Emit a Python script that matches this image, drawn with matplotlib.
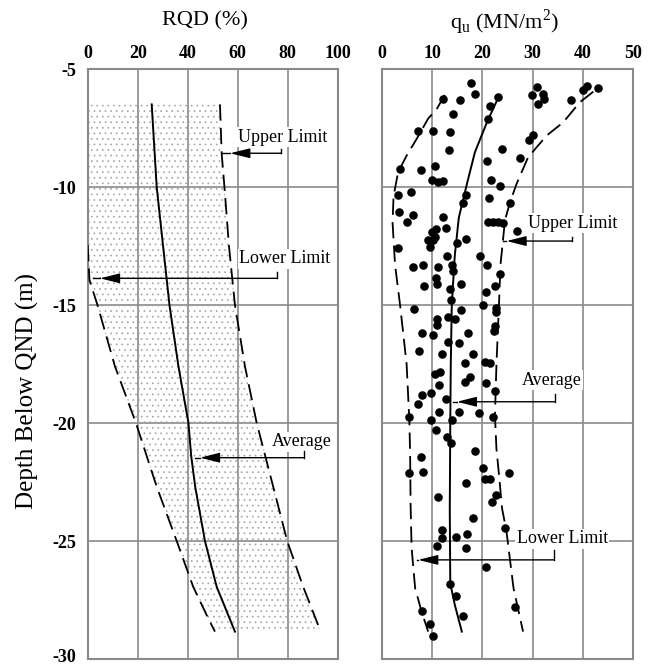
import matplotlib
matplotlib.use("Agg")
import matplotlib.pyplot as plt
from matplotlib.patches import Polygon
from matplotlib.transforms import ScaledTranslation

plt.rcParams['font.family'] = ['Liberation Serif', 'DejaVu Serif']
plt.rcParams['mathtext.fontset'] = 'custom'
plt.rcParams['mathtext.rm'] = 'Liberation Serif'
plt.rcParams['axes.unicode_minus'] = False
plt.rcParams['hatch.linewidth'] = 0.5

# ---------------- data ----------------
depth_ticks = [-30, -25, -20, -15, -10, -5]
rqd_ticks = [0, 20, 40, 60, 80, 100]
qu_ticks = [0, 10, 20, 30, 40, 50]

# RQD panel curves (depth, value)
rqd_avg_depth = [-6.5, -10.0, -15.0, -17.6, -20.0, -21.4, -22.7, -25.0, -26.94, -28.84]
rqd_avg_val = [25.6, 27.6, 32.7, 36.3, 40.3, 41.4, 43.0, 46.9, 51.6, 58.9]

rqd_up_depth = [-6.5, -8.6, -10.0, -12.5, -15.0, -17.6, -20.0, -22.7, -25.0, -26.94, -28.84]
rqd_up_val = [52.9, 53.6, 54.7, 56.5, 58.9, 62.9, 67.6, 74.2, 79.8, 86.2, 93.2]

rqd_low_depth = [-12.46, -13.94, -15.0, -17.6, -20.0, -22.7, -25.0, -26.94, -28.3, -28.84]
rqd_low_val = [0.0, 0.7, 3.9, 10.9, 19.3, 27.6, 35.6, 42.2, 48.3, 50.9]

# qu panel curves
qu_avg_depth = [-6.2, -7.26, -8.53, -9.8, -11.3, -12.9, -15.0, -17.5, -20.0, -23.7, -26.8, -27.7, -28.84]
qu_avg_val = [23.2, 20.9, 18.5, 17.0, 15.3, 14.5, 13.9, 13.7, 13.6, 13.5, 13.6, 14.5, 15.9]

qu_up_depth = [-5.96, -6.41, -7.26, -7.82, -8.74, -9.87, -10.65, -11.4, -12.46, -13.3, -15.0,
               -17.5, -19.7, -21.1, -22.4, -23.6, -24.6, -27.0, -28.84]
qu_up_val = [42.1, 39.4, 36.1, 32.8, 29.1, 26.8, 25.5, 24.5, 24.0, 23.6, 23.3,
             22.8, 22.5, 22.8, 23.4, 23.9, 24.8, 26.2, 28.1]

qu_low_depth = [-6.1, -6.7, -7.1, -8.0, -8.67, -9.38, -10.4, -11.5, -13.3, -15.0, -17.5,
                -19.9, -21.3, -23.5, -25.3, -27.0, -28.0, -28.84]
qu_low_val = [12.5, 10.9, 9.2, 6.8, 4.9, 3.2, 2.3, 2.1, 2.6, 3.6, 4.9,
              5.45, 5.6, 5.7, 5.9, 6.6, 7.9, 9.2]

# qu measured points
qu_pts_val = [17.7, 18.6, 12.2, 15.5, 23.2, 21.5, 21.2, 14.2, 7.2, 10.1, 13.5, 13.3, 3.6, 7.7,
              10.6, 9.9, 11.2, 12.1, 3.25, 5.7, 3.45, 6.1, 12.2, 16.7, 16.2, 21.0, 24.0, 21.8,
              23.6, 21.4, 25.5, 27.5, 29.3, 30.0, 30.9, 29.9, 32.0, 32.3, 31.1, 37.6, 40.0,
              40.9, 43.0,
              5.0, 10.8, 9.9, 12.7, 9.2, 10.2, 9.6, 10.6, 3.25, 14.9, 16.7, 12.9, 6.2, 8.1,
              11.2, 13.9, 14.1, 10.8, 11.0, 8.4, 13.5, 15.7, 13.7, 6.4, 15.7, 13.2, 14.5,
              11.0, 11.0, 7.9, 10.2, 17.2, 13.2, 15.3, 7.4, 11.9, 18.2,
              21.2, 22.2, 23.2, 24.1, 26.8, 19.5, 20.9, 23.5, 22.5, 20.7, 20.2, 22.7, 22.7,
              22.5, 22.4, 20.5, 21.5, 16.5,
              10.6, 11.6, 11.3, 16.5, 17.5, 20.7, 22.5, 7.9, 9.7, 7.2, 12.7, 11.3, 15.4,
              19.4, 22.2, 5.45, 9.7, 13.9, 10.8, 12.9, 13.7, 18.5, 7.7, 5.45, 8.1, 20.2,
              25.2, 20.5, 21.5, 16.7, 22.8, 21.9, 11.1,
              18.1, 11.9, 11.9, 14.7, 17.0, 10.9, 16.7, 24.5, 20.7, 13.5, 14.7, 16.1, 26.4,
              7.9, 9.6, 10.2]
qu_pts_depth = [-5.59, -6.06, -6.27, -6.30, -6.20, -6.55, -7.12, -6.91, -7.61, -7.61, -7.68,
                -8.43, -9.24, -9.28, -9.12, -9.69, -9.80, -9.76, -10.34, -10.23, -11.07,
                -11.19, -11.29, -10.34, -10.68, -8.88, -8.39, -9.69, -9.94, -10.48, -10.69,
                -8.79, -7.99, -7.80, -5.78, -6.10, -6.07, -6.26, -6.50, -6.30, -5.88,
                -5.73, -5.81,
                -11.50, -11.78, -11.89, -11.72, -12.25, -12.25, -12.53, -12.10, -12.60,
                -12.39, -12.20, -12.91, -13.40, -13.31, -13.40, -13.31, -13.56, -13.87,
                -14.11, -14.19, -14.32, -14.11, -14.79, -15.17, -15.21, -15.50, -15.59,
                -15.59, -15.85, -16.20, -16.27, -16.20, -16.58, -16.60, -16.94, -17.09,
                -17.09,
                -11.50, -11.50, -11.50, -11.52, -11.86, -12.92, -13.31, -13.69, -14.19,
                -14.43, -15.00, -15.11, -15.31, -15.89, -16.10, -17.40, -17.44, -17.47,
                -17.92, -17.82, -18.39, -18.25, -18.04, -18.32, -18.63, -18.81, -18.72,
                -19.21, -19.00, -19.52, -19.52, -19.59, -19.73, -19.74, -19.87, -19.87,
                -20.30, -20.61, -20.83, -21.17, -21.43, -22.10, -22.06, -21.92, -22.10,
                -22.39, -22.39, -22.53, -23.05, -23.33, -23.12,
                -24.04, -24.53, -24.86, -24.82, -24.72, -25.21, -25.31, -24.44, -26.09,
                -26.82, -27.32, -28.18, -27.78, -27.97, -28.52, -29.03]

# annotations: (label, text_x, text_y, corner_x, corner_top_y, arrow_y, tip_x, target_x)
rqd_notes = [
    ("Upper Limit", 60.1, -7.9, 77.4, -8.40, -8.57, 57.0, 53.6),
    ("Lower Limit", 60.5, -13.05, 75.6, -13.60, -13.87, 4.9, 2.0),
    ("Average", 73.7, -20.79, 86.6, -21.20, -21.47, 44.9, 42.9),
]
qu_notes = [
    ("Upper Limit", 29.1, -11.54, 37.9, -12.10, -12.29, 24.8, 24.2),
    ("Average", 27.8, -18.18, 34.5, -18.75, -19.10, 14.9, 14.2),
    ("Lower Limit", 26.8, -24.90, 34.3, -25.40, -25.80, 7.2, 6.9),
]

# ---------------- figure ----------------
W, H = 658, 666
fig = plt.figure(figsize=(W / 100, H / 100), dpi=100)
ax1 = fig.add_axes([87.7 / W, 1 - 659 / H, 250 / W, 590 / H])
ax2 = fig.add_axes([382 / W, 1 - 659 / H, 251 / W, 590 / H])

grid_c = '#8a8a8a'
dash = (0, (9, 4))

for ax, xmax, ticks in ((ax1, 100, rqd_ticks), (ax2, 50, qu_ticks)):
    ax.set_xlim(0, xmax)
    ax.set_ylim(-30, -5)
    ax.set_xticks(ticks)
    ax.set_xticklabels([str(t) for t in ticks], fontweight='bold')
    ax.set_yticks(depth_ticks)
    ax.set_yticklabels([str(t) for t in depth_ticks], fontweight='bold')
    ax.xaxis.tick_top()
    ax.tick_params(length=0, labelsize=13, pad=5)
    ax.tick_params(axis='y', pad=8)
    ax.grid(True, color=grid_c, lw=1.2)
    ax.set_axisbelow(True)
    for s in ax.spines.values():
        s.set_color(grid_c)
        s.set_linewidth(1.5)

ax2.set_yticklabels([])

# keep bottom tick label inside the canvas
lab30 = ax1.get_yticklabels()[0]
lab30.set_transform(lab30.get_transform() + ScaledTranslation(0, 3 / 100, fig.dpi_scale_trans))

# stippled band in RQD panel
poly_x = list(rqd_up_val) + list(rqd_low_val[::-1]) + [0.0]
poly_y = list(rqd_up_depth) + list(rqd_low_depth[::-1]) + [rqd_up_depth[0]]
band = Polygon(list(zip(poly_x, poly_y)), closed=True, facecolor='none',
               edgecolor='#a5a5a5', lw=0, hatch='...', zorder=1.5)
ax1.add_patch(band)

ax1.plot(rqd_avg_val, rqd_avg_depth, color='black', lw=1.4, zorder=3)
ax1.plot(rqd_up_val, rqd_up_depth, color='black', lw=1.3, ls=dash, zorder=3)
ax1.plot(rqd_low_val, rqd_low_depth, color='black', lw=1.3, ls=dash, zorder=3)

ax2.plot(qu_avg_val, qu_avg_depth, color='black', lw=1.4, zorder=3)
ax2.plot(qu_up_val, qu_up_depth, color='black', lw=1.3, ls=dash, zorder=3)
ax2.plot(qu_low_val, qu_low_depth, color='black', lw=1.3, ls=dash, zorder=3)
ax2.scatter(qu_pts_val, qu_pts_depth, s=38, color='black', zorder=4, linewidths=0)


def add_notes(ax, notes):
    for label, tx, ty, cx, cty, ay, tipx, tgx in notes:
        ax.text(tx, ty, label, fontsize=13, ha='left', va='center', zorder=5,
                bbox=dict(facecolor='white', edgecolor='none', pad=1.0))
        ax.plot([cx, cx], [cty, ay], color='black', lw=1.0, zorder=5)
        ax.plot([tgx, tipx], [ay, ay], color='black', lw=1.0, zorder=5)
        ax.annotate('', xy=(tipx, ay), xytext=(cx, ay), zorder=5,
                    arrowprops=dict(arrowstyle='-|>,head_length=1.0,head_width=0.25',
                                    color='black', lw=1.0, shrinkA=0, shrinkB=0,
                                    mutation_scale=12))


add_notes(ax1, rqd_notes)
add_notes(ax2, qu_notes)

# titles
ax1.text((205 - 87.7) / 250, 1 + (69 - 21) / 590, 'RQD (%)', transform=ax1.transAxes,
         ha='center', va='center', fontsize=16)
ax2.text((505 - 382) / 251, 1 + (69 - 22) / 590,
         r'q$_{\mathregular{u}}$ (MN/m$^{\mathregular{2}}$)', transform=ax2.transAxes,
         ha='center', va='center', fontsize=16)
fig.text(27 / W, 1 - 391 / H, 'Depth Below QND (m)', rotation=90, ha='center',
         va='center', fontsize=18)

fig.savefig('out.png', dpi=100)
